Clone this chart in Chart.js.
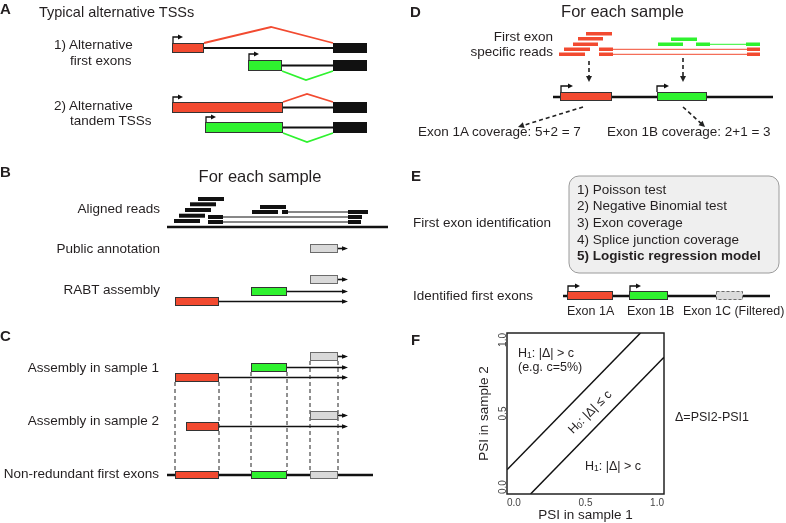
<!DOCTYPE html>
<html>
<head>
<meta charset="utf-8">
<script src="https://cdn.jsdelivr.net/npm/chart.js@4.4.1/dist/chart.umd.min.js"></script>
<style>
  html, body { margin: 0; padding: 0; background: #fff; }
  #wrap { position: relative; width: 786px; height: 523px; overflow: hidden;
          font-family: "Liberation Sans", Arial, sans-serif; color: #231f20; }
  #diagram { position: absolute; left: 0; top: 0; }
  #psi { position: absolute; left: 470px; top: 328px; }
  .t { position: absolute; white-space: nowrap; line-height: 1; }
  .s { font-size: 0.68em; position: relative; top: 0.12em; }
</style>
</head>
<body>
<div id="wrap">
  <canvas id="diagram" width="786" height="523"></canvas>
  <canvas id="psi" width="200" height="195"></canvas>
  <div id="labels"></div>
</div>
<script>
// ---- panel F values (PSI plane) ----
const psiTicks = [0, 0.5, 1];
const upperBound = [{ x: 0, y: 0.15 }, { x: 0.85, y: 1 }];   // PSI2 = PSI1 + c
const lowerBound = [{ x: 0.15, y: 0 }, { x: 1, y: 0.85 }];   // PSI2 = PSI1 - c

// ---- diagram pieces (page coordinates) ----
// exon boxes: [x1, x2, yTop, yBottom, kind]  r=red g=green k=black n=grey d=grey dashed
const exonBoxes = [
  [172, 204, 43, 53, 'r'], [333, 367, 43, 53, 'k'],
  [248, 282, 60, 71, 'g'], [333, 367, 60, 71, 'k'],
  [172, 283, 102, 113, 'r'], [333, 367, 102, 113, 'k'],
  [205, 283, 122, 133, 'g'], [333, 367, 122, 133, 'k'],
  [310, 338, 244, 253, 'n'],
  [310, 338, 275, 284, 'n'], [251, 287, 287, 296, 'g'], [175, 219, 297, 306, 'r'],
  [310, 338, 352, 361, 'n'], [251, 287, 363, 372, 'g'], [175, 219, 373, 382, 'r'],
  [310, 338, 411, 420, 'n'], [186, 219, 422, 431, 'r'],
  [175, 219, 471, 479, 'r'], [251, 287, 471, 479, 'g'], [310, 338, 471, 479, 'n'],
  [560, 612, 92, 101, 'r'], [657, 707, 92, 101, 'g'],
  [567, 613, 291, 300, 'r'], [629, 668, 291, 300, 'g'], [716, 743, 291, 300, 'd']
];
// plain lines: [x1, y1, x2, y2, width, kind]
const geneLines = [
  [204, 48, 333, 48, 2, 'k'], [282, 65.5, 333, 65.5, 2, 'k'],
  [283, 107.5, 333, 107.5, 2, 'k'], [283, 127.5, 333, 127.5, 2, 'k'],
  [167, 227, 388, 227, 2.5, 'k'],
  [223, 217, 348, 217, 1, 'k'], [223, 222, 348, 222, 1, 'k'], [288, 212, 348, 212, 1, 'k'],
  [167, 475, 373, 475, 2.5, 'k'],
  [613, 49.3, 747, 49.3, 1, 'r'], [613, 54.3, 747, 54.3, 1, 'r'], [710, 44.3, 746, 44.3, 1, 'g'],
  [553, 97, 773, 97, 2.5, 'k'],
  [563, 296, 770, 296, 2.5, 'k']
];
// splice junction arcs: [x1, y1, xPeak, yPeak, x2, y2, kind]
const spliceArcs = [
  [204, 43, 271, 27, 333, 43, 'r'],
  [282, 71, 306, 80, 333, 71, 'g'],
  [283, 102, 307, 94, 333, 102, 'r'],
  [283, 133, 307, 142, 333, 133, 'g']
];
// reads: [x1, x2, yTop, height, kind]
const reads = [
  [198, 224, 197, 4, 'k'], [190, 216, 202.3, 4, 'k'], [185, 211, 208, 4, 'k'],
  [179, 205, 213.7, 4, 'k'], [174, 200, 219, 4, 'k'],
  [208, 223, 215, 4, 'k'], [208, 223, 220, 4, 'k'],
  [260, 286, 205, 4, 'k'], [252, 278, 210, 4, 'k'], [282, 288, 210, 4, 'k'],
  [348, 368, 210, 4, 'k'], [348, 362, 215, 4, 'k'], [348, 361, 220, 4, 'k'],
  [586, 612, 32, 3.5, 'r'], [578, 603, 37, 3.5, 'r'], [573, 598, 42.5, 3.5, 'r'],
  [564, 590, 47.5, 3.5, 'r'], [559, 585, 52.5, 3.5, 'r'],
  [599, 613, 47.5, 3.5, 'r'], [599, 613, 52.5, 3.5, 'r'],
  [747, 760, 47.5, 3.5, 'r'], [747, 760, 52.5, 3.5, 'r'],
  [671, 697, 37.5, 3.5, 'g'], [658, 683, 42.5, 3.5, 'g'],
  [696, 710, 42.5, 3.5, 'g'], [746, 760, 42.5, 3.5, 'g']
];
// transcript lines ending with an arrow head: [x1, x2, y]
const transcripts = [
  [338, 348, 248.5], [338, 348, 279.5], [287, 348, 291.5], [219, 348, 301.5],
  [338, 348, 356.5], [287, 348, 367.5], [219, 348, 377.5],
  [338, 348, 415.5], [219, 348, 426.5]
];
// TSS bent arrows: [x, yBase, yTop, xEnd]
const tssArrows = [
  [173, 43, 37, 183], [249, 60, 54, 259], [173, 102, 97, 183], [206, 122, 117, 216],
  [561, 92, 86, 573], [657, 92, 86, 669],
  [568, 291, 286, 580], [630, 291, 286, 641]
];
// dashed guides: [x1, y1, x2, y2, arrowHead]
const dashedGuides = [
  [175, 382, 175, 471, 0], [219, 382, 219, 471, 0],
  [251, 372, 251, 471, 0], [287, 372, 287, 471, 0],
  [310, 361, 310, 471, 0], [338, 361, 338, 471, 0],
  [589, 61, 589, 82, 1], [683, 58, 683, 82, 1],
  [583, 107, 518, 127, 1], [683, 107, 705, 127, 1]
];
// rounded method box: [x1, y1, x2, y2, radius]
const methodBox = [569, 176, 779, 273, 10];

// ---- texts: [html, x, baseline, size, align, bold] ----
const texts = [
  ['A', 0, 13.5, 15, 'l', 1],
  ['Typical alternative TSSs', 39, 17.5, 14.5, 'l', 0],
  ['1) Alternative', 54, 49, 13.5, 'l', 0],
  ['first exons', 70, 65.5, 13.5, 'l', 0],
  ['2) Alternative', 54, 110.5, 13.5, 'l', 0],
  ['tandem TSSs', 70, 125.5, 13.5, 'l', 0],
  ['B', 0, 176.5, 15, 'l', 1],
  ['For each sample', 260, 181.5, 16.5, 'c', 0],
  ['Aligned reads', 160, 213.5, 13.5, 'r', 0],
  ['Public annotation', 160, 253.5, 13.5, 'r', 0],
  ['RABT assembly', 160, 294, 13.5, 'r', 0],
  ['C', 0, 341, 15, 'l', 1],
  ['Assembly in sample 1', 159, 372.5, 13.5, 'r', 0],
  ['Assembly in sample 2', 159, 425, 13.5, 'r', 0],
  ['Non-redundant first exons', 159, 478.5, 13.5, 'r', 0],
  ['D', 410, 17, 15, 'l', 1],
  ['For each sample', 622.5, 16.5, 16.5, 'c', 0],
  ['First exon', 553, 41, 13.5, 'r', 0],
  ['specific reads', 553, 56.5, 13.5, 'r', 0],
  ['Exon 1A coverage: 5+2 = 7', 418, 136, 13.5, 'l', 0],
  ['Exon 1B coverage: 2+1 = 3', 607, 136, 13.5, 'l', 0],
  ['E', 411, 180.5, 15, 'l', 1],
  ['First exon identification', 413, 227.5, 13.5, 'l', 0],
  ['1) Poisson test', 577, 194, 13.5, 'l', 0],
  ['2) Negative Binomial test', 577, 210.7, 13.5, 'l', 0],
  ['3) Exon coverage', 577, 227.3, 13.5, 'l', 0],
  ['4) Splice junction coverage', 577, 244, 13.5, 'l', 0],
  ['5) Logistic regression model', 577, 260.7, 13.5, 'l', 1],
  ['Identified first exons', 413, 300, 13.5, 'l', 0],
  ['Exon 1A', 567, 315.5, 12.5, 'l', 0],
  ['Exon 1B', 627, 315.5, 12.5, 'l', 0],
  ['Exon 1C (Filtered)', 683, 315.5, 12.5, 'l', 0],
  ['F', 411, 344.5, 15, 'l', 1],
  ['H<span class="s">1</span>: |Δ| &gt; c', 518, 357.5, 12.5, 'l', 0],
  ['(e.g. c=5%)', 518, 372, 12.5, 'l', 0],
  ['H<span class="s">1</span>: |Δ| &gt; c', 585, 471, 12.5, 'l', 0],
  ['Δ=PSI2-PSI1', 675, 421.5, 12.5, 'l', 0]
];
const bandLabel = ['H<span class="s">0</span>: |Δ| ≤ c', 590, 412, 12.5];

const COLORS = { r: '#f24a30', g: '#2ff22f', k: '#111111', n: '#d9d9d9', d: '#dcdcdc' };

// ---- text overlay ----
const labelLayer = document.getElementById('labels');
texts.forEach(([html, x, base, size, align, bold]) => {
  const el = document.createElement('div');
  el.className = 't';
  el.innerHTML = html;
  el.style.fontSize = size + 'px';
  el.style.left = x + 'px';
  el.style.top = (base - 0.8465 * size) + 'px';
  if (bold) el.style.fontWeight = 'bold';
  if (align === 'r') el.style.transform = 'translateX(-100%)';
  if (align === 'c') el.style.transform = 'translateX(-50%)';
  labelLayer.appendChild(el);
});
{
  const el = document.createElement('div');
  el.className = 't';
  el.innerHTML = bandLabel[0];
  el.style.fontSize = bandLabel[3] + 'px';
  el.style.left = bandLabel[1] + 'px';
  el.style.top = bandLabel[2] + 'px';
  el.style.transform = 'translate(-50%, -50%) rotate(-45deg)';
  labelLayer.appendChild(el);
}

// ---- diagram painter (uses the chart's own scales) ----
function arrowHead(ctx, x, y, ux, uy, len, half) {
  const px = -uy, py = ux;
  ctx.beginPath();
  ctx.moveTo(x, y);
  ctx.lineTo(x - ux * len + px * half, y - uy * len + py * half);
  ctx.lineTo(x - ux * len - px * half, y - uy * len - py * half);
  ctx.closePath();
  ctx.fill();
}

const diagramPainter = {
  id: 'diagramPainter',
  afterDraw(chart) {
    const ctx = chart.ctx;
    const X = v => chart.scales.x.getPixelForValue(v);
    const Y = v => chart.scales.y.getPixelForValue(v);
    ctx.save();
    ctx.lineCap = 'butt';

    // method box
    const [bx1, by1, bx2, by2, br] = methodBox;
    ctx.beginPath();
    ctx.roundRect(X(bx1), Y(by1), X(bx2) - X(bx1), Y(by2) - Y(by1), br);
    ctx.fillStyle = '#efefef';
    ctx.fill();
    ctx.strokeStyle = '#9a9a9a';
    ctx.lineWidth = 1;
    ctx.stroke();

    // lines
    geneLines.forEach(([x1, y1, x2, y2, w, k]) => {
      ctx.beginPath();
      ctx.moveTo(X(x1), Y(y1));
      ctx.lineTo(X(x2), Y(y2));
      ctx.lineWidth = w;
      ctx.strokeStyle = COLORS[k];
      ctx.stroke();
    });

    // splice arcs
    spliceArcs.forEach(([x1, y1, xm, ym, x2, y2, k]) => {
      ctx.beginPath();
      ctx.moveTo(X(x1), Y(y1));
      ctx.lineTo(X(xm), Y(ym));
      ctx.lineTo(X(x2), Y(y2));
      ctx.lineWidth = 1.8;
      ctx.strokeStyle = COLORS[k];
      ctx.stroke();
    });

    // transcripts with arrow heads
    ctx.fillStyle = '#111';
    transcripts.forEach(([x1, x2, y]) => {
      ctx.beginPath();
      ctx.moveTo(X(x1), Y(y));
      ctx.lineTo(X(x2) - 3, Y(y));
      ctx.lineWidth = 1.6;
      ctx.strokeStyle = '#111';
      ctx.stroke();
      arrowHead(ctx, X(x2), Y(y), 1, 0, 6, 2.2);
    });

    // dashed guides
    dashedGuides.forEach(([x1, y1, x2, y2, head]) => {
      const dx = X(x2) - X(x1), dy = Y(y2) - Y(y1);
      const len = Math.hypot(dx, dy), ux = dx / len, uy = dy / len;
      ctx.beginPath();
      ctx.setLineDash(head ? [4, 3] : [4, 3]);
      ctx.moveTo(X(x1), Y(y1));
      ctx.lineTo(X(x2) - (head ? ux * 4 : 0), Y(y2) - (head ? uy * 4 : 0));
      ctx.lineWidth = head ? 1.6 : 1;
      ctx.strokeStyle = '#222';
      ctx.stroke();
      ctx.setLineDash([]);
      if (head) { ctx.fillStyle = '#222'; arrowHead(ctx, X(x2), Y(y2), ux, uy, 6, 3); }
    });

    // reads
    reads.forEach(([x1, x2, y, h, k]) => {
      ctx.fillStyle = COLORS[k];
      ctx.fillRect(X(x1), Y(y), X(x2) - X(x1), Y(y + h) - Y(y));
    });

    // exon boxes
    exonBoxes.forEach(([x1, x2, y1, y2, k]) => {
      const px = X(x1), py = Y(y1), w = X(x2) - px, h = Y(y2) - py;
      ctx.fillStyle = COLORS[k];
      ctx.fillRect(px, py, w, h);
      if (k === 'k') return;
      ctx.lineWidth = 1;
      ctx.strokeStyle = (k === 'n' || k === 'd') ? '#6b6b6b' : '#333';
      if (k === 'd') ctx.setLineDash([3, 2]);
      ctx.strokeRect(px + 0.5, py + 0.5, w - 1, h - 1);
      ctx.setLineDash([]);
    });

    // TSS arrows
    ctx.strokeStyle = '#111';
    ctx.fillStyle = '#111';
    tssArrows.forEach(([x, yb, yt, xe]) => {
      ctx.beginPath();
      ctx.moveTo(X(x), Y(yb));
      ctx.lineTo(X(x), Y(yt));
      ctx.lineTo(X(xe) - 3, Y(yt));
      ctx.lineWidth = 1.3;
      ctx.stroke();
      arrowHead(ctx, X(xe), Y(yt), 1, 0, 5, 2.5);
    });
    ctx.restore();
  }
};

new Chart(document.getElementById('diagram'), {
  type: 'scatter',
  data: { datasets: [] },
  options: {
    responsive: false,
    animation: false,
    layout: { padding: 0 },
    plugins: { legend: { display: false }, tooltip: { enabled: false } },
    scales: {
      x: { type: 'linear', min: 0, max: 786, display: false },
      y: { type: 'linear', min: 0, max: 523, reverse: true, display: false }
    }
  },
  plugins: [diagramPainter]
});

// ---- panel F chart ----
const psiFrame = {
  id: 'psiFrame',
  afterDraw(chart) {
    const { ctx, chartArea: a } = chart;
    const ys = chart.scales.y;
    ctx.save();
    ctx.strokeStyle = '#222';
    ctx.lineWidth = 1.5;
    ctx.strokeRect(a.left, a.top, a.right - a.left, a.bottom - a.top);
    ctx.font = '10px "Liberation Sans", Arial, sans-serif';
    ctx.fillStyle = '#444';
    ctx.textBaseline = 'alphabetic';
    psiTicks.forEach((v, i) => {
      ctx.save();
      ctx.translate(ys.right - 1, ys.getPixelForValue(v));
      ctx.rotate(-Math.PI / 2);
      ctx.textAlign = i === 0 ? 'left' : (i === psiTicks.length - 1 ? 'right' : 'center');
      ctx.fillText(v.toFixed(1), 0, 0);
      ctx.restore();
    });
    ctx.restore();
  }
};

new Chart(document.getElementById('psi'), {
  type: 'scatter',
  data: {
    datasets: [
      { data: upperBound, showLine: true, borderColor: '#111', borderWidth: 1.5, pointRadius: 0 },
      { data: lowerBound, showLine: true, borderColor: '#111', borderWidth: 1.5, pointRadius: 0 }
    ]
  },
  options: {
    responsive: false,
    animation: false,
    layout: { padding: { top: 5, right: 6, left: 0, bottom: 0 } },
    plugins: { legend: { display: false }, tooltip: { enabled: false } },
    scales: {
      x: {
        type: 'linear', min: 0, max: 1,
        grid: { display: false, drawTicks: false }, border: { display: false },
        afterBuildTicks: s => { s.ticks = psiTicks.map(v => ({ value: v })); },
        ticks: { align: 'inner', padding: 3, color: '#444',
                 font: { size: 10, family: '"Liberation Sans", Arial, sans-serif' },
                 callback: v => Number(v).toFixed(1) },
        title: { display: true, text: 'PSI in sample 1', color: '#231f20', padding: 0,
                 font: { size: 13.5, family: '"Liberation Sans", Arial, sans-serif' } },
        afterFit: s => { s.height = 29; }
      },
      y: {
        type: 'linear', min: 0, max: 1,
        grid: { display: false, drawTicks: false }, border: { display: false },
        afterBuildTicks: s => { s.ticks = psiTicks.map(v => ({ value: v })); },
        ticks: { display: false },
        title: { display: true, text: 'PSI in sample 2', color: '#231f20', padding: { top: 6, bottom: 0 },
                 font: { size: 13.5, family: '"Liberation Sans", Arial, sans-serif' } },
        afterFit: s => { s.width = 37; }
      }
    }
  },
  plugins: [psiFrame]
});
</script>
</body>
</html>
